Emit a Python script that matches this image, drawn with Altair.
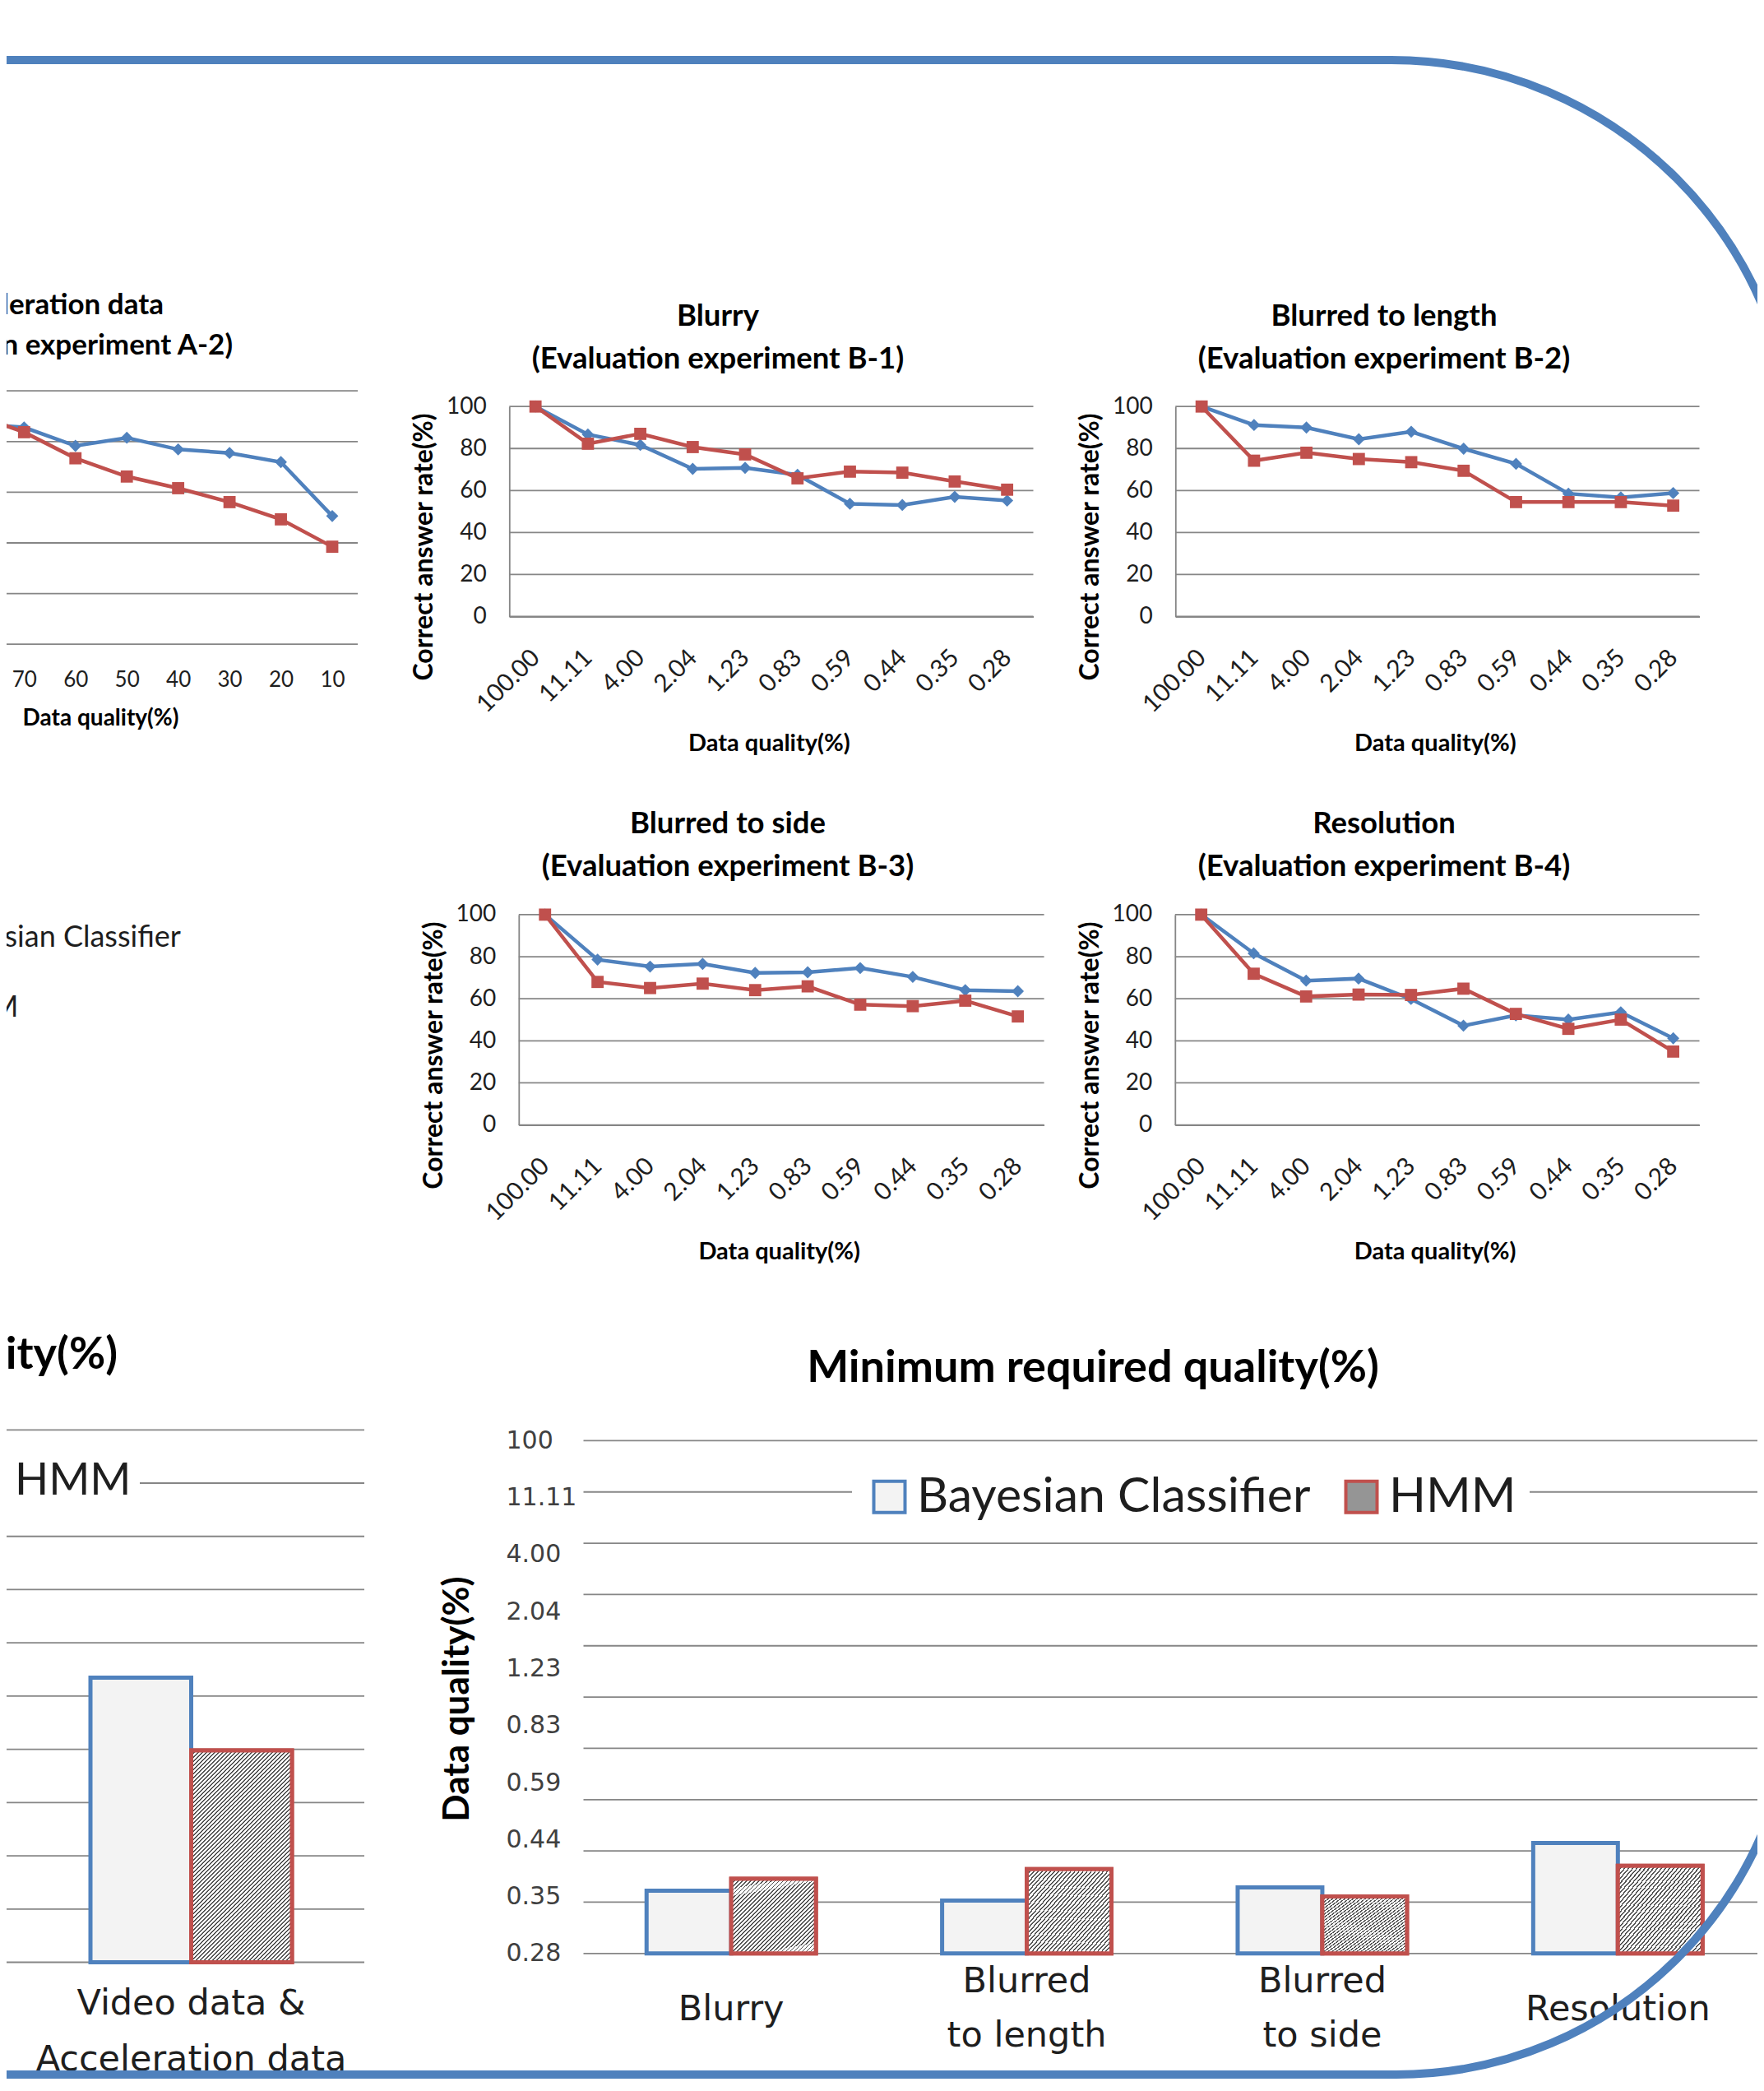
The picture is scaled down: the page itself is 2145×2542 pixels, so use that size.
import json
import altair as alt
import pandas as pd

# ---------------- data ----------------
series = ["Bayesian Classifier", "HMM"]

# A-2 (left, partly cut off): data quality 80 .. 10 %
a2_quality = [80, 70, 60, 50, 40, 30, 20, 10]
a2_ticks = [70, 60, 50, 40, 30, 20, 10]
a2_bayes = [87.0, 85.6, 78.3, 81.5, 76.9, 75.5, 71.9, 50.6]
a2_hmm = [91.0, 83.7, 73.4, 66.2, 61.6, 56.1, 49.3, 38.5]

# B-1 .. B-4
b_quality = ["100.00", "11.11", "4.00", "2.04", "1.23", "0.83", "0.59", "0.44", "0.35", "0.28"]
b1_bayes = [100, 86.7, 81.7, 70.3, 70.8, 67.5, 53.7, 53.1, 57.0, 55.2]
b1_hmm = [100, 82.3, 87.0, 80.7, 77.2, 65.8, 69.0, 68.5, 64.3, 60.4]
b2_bayes = [100, 91.2, 90.0, 84.4, 88.0, 79.9, 72.7, 58.5, 56.7, 58.8]
b2_hmm = [100, 74.2, 78.0, 75.0, 73.5, 69.4, 54.5, 54.5, 54.5, 52.8]
b3_bayes = [100, 78.6, 75.3, 76.6, 72.3, 72.6, 74.6, 70.4, 64.1, 63.6]
b3_hmm = [100, 68.0, 65.1, 67.2, 64.1, 65.9, 57.2, 56.5, 59.1, 51.6]
b4_bayes = [100, 81.6, 68.6, 69.6, 59.9, 47.2, 52.1, 50.1, 53.6, 41.2]
b4_hmm = [100, 71.9, 61.1, 62.0, 61.8, 64.8, 52.8, 45.7, 50.1, 34.9]
rate_ticks = [0, 20, 40, 60, 80, 100]

# Minimum required quality (level index on the quality axis)
min_levels = ["0.28", "0.35", "0.44", "0.59", "0.83", "1.23", "2.04", "4.00", "11.11", "100"]
min_cats = ["Blurry", "Blurred\nto length", "Blurred\nto side", "Resolution"]
min_bayes = [1.10, 0.93, 1.16, 1.94]
min_hmm = [1.31, 1.48, 1.00, 1.54]
left_cats = ["Video data &\nAcceleration data"]
left_bayes = [4.81]
left_hmm = [3.58]
grid_levels = [0, 0.9, 1.8, 2.7, 3.6, 4.5, 5.4, 6.3, 7.2, 8.1, 9.0]

chart_titles = [
    "Blurry\n(Evaluation experiment B-1)",
    "Blurred to length\n(Evaluation experiment B-2)",
    "Blurred to side\n(Evaluation experiment B-3)",
    "Resolution\n(Evaluation experiment B-4)",
]
a2_title = ["Video data & Acceleration data", "(Evaluation experiment A-2)"]
min_title = "Minimum required quality(%)"
rate_title = "Correct answer rate(%)"
quality_title = "Data quality(%)"

# ---------------- layout / style ----------------
O = 8                       # page margin
W, H = 2145 - 2 * O, 2542 - 2 * O


def P(v):
    return v - O


BLUE, RED, GRID, INK = "#4F81BD", "#C0504D", "#868686", "#1e1e1e"
FONT = "Lato"
VFONT = "DejaVu Sans"
color_scale = alt.Scale(domain=series, range=[BLUE, RED])
shape_scale = alt.Scale(domain=series, range=["diamond", "square"])


def long_df(cats, bayes, hmm):
    n = len(cats)
    return pd.DataFrame({
        "q": list(cats) * 2,
        "v": list(bayes) + list(hmm),
        "series": [series[0]] * n + [series[1]] * n,
        "i": list(range(n)) * 2,
    })


def grid_rules(values, yscale, x0, x1, yaxis):
    return alt.Chart(pd.DataFrame({"g": values})).mark_rule(color=GRID, strokeWidth=1.8).encode(
        y=alt.Y("g:Q", scale=yscale, axis=yaxis),
        x=alt.value(P(x0)), x2=alt.value(P(x1)),
    )


def lines_and_points(df, xenc_args, yenc_args, legend=None):
    x = alt.X(**xenc_args)
    y = alt.Y(**yenc_args)
    line = alt.Chart(df).mark_line(strokeWidth=4.5).encode(
        x=x, y=y, order="i:Q",
        color=alt.Color("series:N", scale=color_scale, legend=legend),
    )
    pts = alt.Chart(df).mark_point(filled=True, opacity=1, size=220).encode(
        x=x, y=y,
        color=alt.Color("series:N", scale=color_scale, legend=None),
        shape=alt.Shape("series:N", scale=shape_scale, legend=None),
    )
    return line, pts


def b_chart(bayes, hmm, x0, x1, y0, y100):
    df = long_df(b_quality, bayes, hmm)
    ys = alt.Scale(domain=[0, 100], range=[P(y0), P(y100)], nice=False, zero=False)
    xs = alt.Scale(type="point", domain=b_quality, range=[P(x0), P(x1)], padding=0.5)
    yax = alt.Axis(orient="left", offset=-P(x0), values=rate_ticks, grid=False, ticks=False,
                   domain=True, domainColor=GRID, domainWidth=1.8,
                   labelFont=FONT, labelFontSize=28, labelColor=INK, labelPadding=28,
                   labelFlush=False, labelBaseline="middle",
                   title=rate_title, titleFont=FONT, titleFontSize=32, titleFontWeight="bold",
                   titleColor="black", titleAngle=270, titleX=-103.5, titleY=P(y0 - 85),
                   titleAlign="center", titleBaseline="middle")
    xax = alt.Axis(orient="bottom", offset=P(y0) - H, labelAngle=315, labelAlign="right",
                   labelBaseline="middle", labelPadding=45, labelFont=FONT, labelFontSize=30,
                   labelColor=INK, labelOverlap=False, labelFlush=False, labelLimit=0,
                   domain=True, domainColor=GRID, domainWidth=1.8, ticks=False, grid=False,
                   title=quality_title, titleFont=FONT, titleFontSize=29, titleFontWeight="bold",
                   titleColor="black", titleX=P((x0 + x1) / 2 - 3), titleY=154,
                   titleAlign="center", titleBaseline="middle")
    grid = grid_rules(rate_ticks, ys, x0, x1, yax)
    line, pts = lines_and_points(
        df,
        dict(shorthand="q:N", scale=xs, axis=xax, sort=b_quality),
        dict(shorthand="v:Q", scale=ys, axis=yax),
    )
    return alt.layer(grid, line, pts)


def hatch(gx, gy, n, dark="#505050", light="#ffffff", frac=0.38):
    # stretch the gradient vector so that the far corner of the bar is reached
    s = (gx + gy) / (gx * gx + gy * gy)
    stops = []
    for k in range(n):
        a, b, c = k / n, (k + frac) / n, (k + 1) / n
        stops += [{"offset": a, "color": dark}, {"offset": b, "color": dark},
                  {"offset": b, "color": light}, {"offset": c, "color": light}]
    return {"gradient": "linear", "x1": 0, "y1": 0, "x2": gx * s, "y2": gy * s, "stops": stops}


def bar_chart(cats, bayes, hmm, xr, pin, pout, yr, xax, yax, legend, gx0, gx1, grad):
    df = long_df(cats, bayes, hmm)
    xs = alt.Scale(type="band", domain=cats, range=xr, paddingInner=pin, paddingOuter=pout)
    ys = alt.Scale(domain=[0, 9], range=yr, nice=False, zero=False)
    xo = alt.Scale(type="band", domain=series, paddingInner=0, paddingOuter=0)
    grid = grid_rules(grid_levels, ys, gx0, gx1, yax)
    enc = dict(
        x=alt.X("q:N", scale=xs, axis=xax, sort=cats),
        xOffset=alt.XOffset("series:N", scale=xo, sort=series),
        y=alt.Y("v:Q", scale=ys, axis=yax),
    )
    base = alt.Chart(df).mark_bar(strokeWidth=5, strokeJoin="miter").encode(
        fill=alt.Fill("series:N", scale=alt.Scale(domain=series, range=["#f3f3f3", "#959595"]), legend=legend),
        stroke=alt.Stroke("series:N", scale=color_scale, legend=legend),
        **enc,
    )
    hat = alt.Chart(df).transform_filter(alt.datum.series == series[1]).mark_bar(
        fill=grad, stroke=RED, strokeWidth=5, strokeJoin="miter").encode(**enc)
    return alt.layer(grid, base, hat)


def text_mark(text, x, y, size, align="center", weight="bold", font=FONT, lh=None, color="black"):
    mk = dict(align=align, baseline="middle", font=font, fontSize=size, fontWeight=weight, color=color)
    if "\n" in text:
        mk.update(lineBreak="\n", lineHeight=lh)
    return alt.Chart(pd.DataFrame({"t": [text]})).mark_text(**mk).encode(
        x=alt.value(x), y=alt.value(y), text="t:N")


layers = []

# ---- A-2 (cut at left) ----
a2_df = long_df(a2_quality, a2_bayes, a2_hmm)
a2_xs = alt.Scale(domain=[70, 10], range=[P(29.3), P(404)], nice=False, zero=False)
a2_ys = alt.Scale(domain=[0, 100], range=[P(783.2), P(475.2)], nice=False, zero=False)
a2_xax = alt.Axis(orient="bottom", offset=P(783.2) - H, values=a2_ticks, domain=False, ticks=False,
                  grid=False, labelFont=FONT, labelFontSize=26, labelColor=INK, labelPadding=43,
                  labelBaseline="middle", labelFlush=False, labelOverlap=False,
                  title=quality_title, titleFont=FONT, titleFontSize=28, titleFontWeight="bold",
                  titleColor="black", titleX=P(122), titleY=90, titleAlign="center",
                  titleBaseline="middle")
line_legend = alt.Legend(orient="none", legendX=-126, legendY=P(1143) - 21, direction="vertical",
                         title=None, labelFont=FONT, labelFontSize=36, labelColor=INK, labelLimit=0,
                         rowPadding=49, labelOffset=10, padding=0)
a2_grid = grid_rules(rate_ticks, a2_ys, -20, 435, None)
a2_line, a2_pts = lines_and_points(
    a2_df,
    dict(shorthand="q:Q", scale=a2_xs, axis=a2_xax),
    dict(shorthand="v:Q", scale=a2_ys, axis=None),
    legend=line_legend,
)
layers.append(alt.layer(a2_grid, a2_line, a2_pts))
layers.append(text_mark(a2_title[0], P(199), P(371), 35, align="right"))
layers.append(text_mark(a2_title[1], P(283), P(420), 35, align="right"))

# ---- B-1 .. B-4 ----
layers.append(b_chart(b1_bayes, b1_hmm, 619.3, 1256.5, 749.5, 494.2))
layers.append(b_chart(b2_bayes, b2_hmm, 1429.3, 2066.5, 749.5, 494.2))
layers.append(b_chart(b3_bayes, b3_hmm, 630.8, 1269.6, 1367.6, 1111.9))
layers.append(b_chart(b4_bayes, b4_hmm, 1428.8, 2066.5, 1367.6, 1111.9))
for t, cx, cy in zip(chart_titles, [873, 1683, 885, 1683], [385, 385, 1002, 1002]):
    layers.append(text_mark(t, P(cx), P(cy), 36.5, lh=52))

# ---- Minimum required quality: left (cut) ----
bl_xax = alt.Axis(orient="bottom", offset=P(2385.5) - H, domain=False, ticks=False, grid=False,
                  labelAngle=0, labelFont=VFONT, labelFontSize=43, labelColor=INK, labelPadding=50,
                  labelBaseline="middle", labelLineHeight=68, labelExpr="split(datum.label, '\\n')",
                  labelLimit=0, labelOverlap=False, labelFlush=False, title=None)
bl_leg = alt.Legend(orient="none", legendX=-603, legendY=P(1801) - 37, direction="horizontal",
                    title=None, labelFont=FONT, labelFontSize=54, labelColor=INK, labelLimit=0,
                    symbolType="square", symbolSize=1296, symbolStrokeWidth=4, labelOffset=6,
                    columnPadding=45, padding=10, fillColor="white")
layers.append(bar_chart(left_cats, left_bayes, left_hmm, [P(110), P(355)], 0, 0,
                        [P(2385.5), P(1738.3)], bl_xax, None, bl_leg, -20, 443,
                        hatch(0.475, 1, 76)))
layers.append(text_mark(min_title, P(143), P(1648), 54, align="right"))

# ---- Minimum required quality: right ----
lab_expr = json.dumps(min_levels).replace('"', "'") + "[datum.value]"
# two-line labels sit half a line higher than one-line labels (vertically centred block)
two_line = "indexof(datum.label, '\\n') >= 0"
br_xax = alt.Axis(orient="bottom", offset=P(2374.8) - H, domain=False, ticks=False, grid=False,
                  labelAngle=0, labelFont=VFONT, labelFontSize=43, labelColor=INK, labelPadding=68,
                  labelBaseline=alt.condition(two_line, alt.value("line-bottom"), alt.value("middle")),
                  labelLineHeight=66, labelExpr="split(datum.label, '\\n')",
                  labelLimit=0, labelOverlap=False, labelFlush=False, title=None)
br_yax = alt.Axis(orient="left", offset=-P(709.5), values=list(range(10)), labelExpr=lab_expr,
                  labelAlign="left", labelPadding=94.5, labelBaseline="middle", labelFont=VFONT,
                  labelFontSize=30, labelColor="#404040", labelFlush=False, labelOverlap=False,
                  domain=False, ticks=False, grid=False,
                  title=quality_title, titleFont=FONT, titleFontSize=44, titleFontWeight="bold",
                  titleAngle=270, titleX=-153.5, titleY=P(2065), titleAlign="center",
                  titleBaseline="middle", titleColor="black")
br_leg = alt.Legend(orient="none", legendX=P(1052) - 16, legendY=P(1820) - 16 - 30,
                    direction="horizontal", title=None, labelFont=FONT, labelFontSize=59,
                    labelColor=INK, labelLimit=0, symbolType="square", symbolSize=1444,
                    symbolStrokeWidth=4, labelOffset=4, columnPadding=32, padding=16,
                    fillColor="white")
layers.append(bar_chart(min_cats, min_bayes, min_hmm, [P(709.5), P(2147)], 0.427, 0.2135,
                        [P(2374.8), P(1751.4)], br_xax, br_yax, br_leg, 709.5, 2160,
                        hatch(1, 0.89, 39)))
layers.append(text_mark(min_title, P(1329), P(1664), 54))

# ---- blue rounded frame ----
frame = alt.Chart(pd.DataFrame({"f": [0]})).mark_rect(
    filled=False, stroke=BLUE, strokeWidth=10,
    cornerRadiusTopRight=490, cornerRadiusBottomRight=484,
).encode(x=alt.value(-300), x2=alt.value(P(2182)), y=alt.value(P(73)), y2=alt.value(P(2522)))
layers.append(frame)

chart = (
    alt.layer(*layers)
    .resolve_scale(x="independent", y="independent", xOffset="independent")
    .resolve_axis(x="independent", y="independent")
    .resolve_legend(fill="independent", stroke="independent")
    .properties(width=W, height=H, padding=0, background="white",
                autosize=alt.AutoSizeParams(type="none"))
    .configure_view(stroke=None)
)

chart.save("out.html", embed_options={"renderer": "svg", "actions": False})
